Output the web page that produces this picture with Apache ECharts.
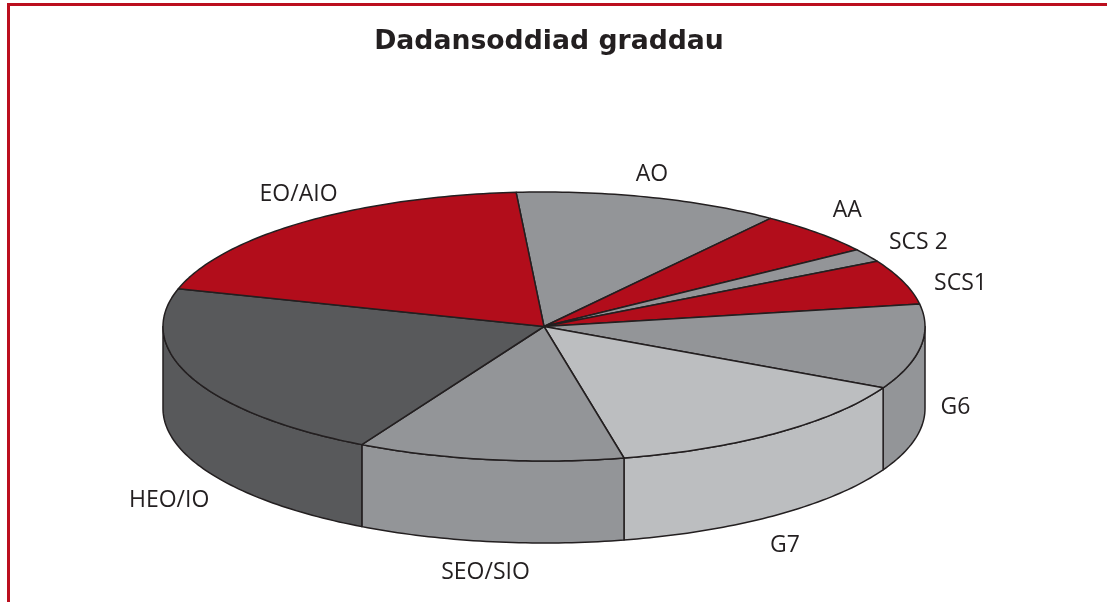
<!DOCTYPE html>
<html>
<head>
<meta charset="utf-8">
<style>html,body{margin:0;padding:0;background:#fff}#c{width:1107px;height:602px}</style>
<script src="https://cdn.jsdelivr.net/npm/echarts@6/dist/echarts.min.js"></script>
</head>
<body>
<div id="c"></div>
<script>
// Data (share of the pie, clockwise from AO)
const categories = ['AO', 'AA', 'SCS 2', 'SCS1', 'G6', 'G7', 'SEO/SIO', 'HEO/IO', 'EO/AIO'];
const shares = [11.3, 5.2, 1.6, 5.4, 10.2, 14.1, 11.3, 21.6, 19.3];
const sliceColors = ['#939598', '#b20d1b', '#939598', '#b20d1b', '#939598', '#bcbec0', '#939598', '#58595b', '#b20d1b'];
// Layout
const labelOffsets = [[2, -23], [30, -22], [51, -13], [57, 1], [35, -22], [9, 30], [-4, 31], [-23, 40], [-6, -27]];
const cx = 544, cy = 326.5, rx = 381, ry = 134.5, depth = 82, startAngle = 94.2;
const ink = '#231f20';
const labelFont = '23px "Open Sans", "Noto Sans", sans-serif';

const total = shares.reduce((a, b) => a + b, 0);
const toAngle = v => echarts.number.linearMap(v, [0, total], [startAngle, startAngle - 360]);
const onRim = (deg, dy) => {
  const r = deg * Math.PI / 180;
  return [cx + rx * Math.cos(r), cy - ry * Math.sin(r) + dy];
};
const arc = (from, to, dy) => {
  const n = Math.max(2, Math.ceil(Math.abs(from - to)));
  const pts = [];
  for (let i = 0; i <= n; i++) pts.push(onRim(from + (to - from) * i / n, dy));
  return pts;
};

function renderItem(params, api) {
  const i = params.dataIndex;
  const before = shares.slice(0, i).reduce((a, b) => a + b, 0);
  const a0 = toAngle(before), a1 = toAngle(before + api.value(0));
  const style = { fill: sliceColors[i], stroke: ink, lineWidth: 1.5, lineJoin: 'round' };
  const children = [];
  const w0 = Math.min(a0, 0), w1 = Math.max(a1, -180);
  if (w0 > w1) {
    const top = arc(w0, w1, 0), bottom = arc(w1, w0, depth);
    children.push({ type: 'polygon', shape: { points: top.concat(bottom) }, style });
  }
  children.push({ type: 'polygon', shape: { points: [[cx, cy]].concat(arc(a0, a1, 0)) }, style });
  const mid = (a0 + a1) / 2;
  const m = onRim(mid, mid < 0 && mid > -180 ? depth : 0);
  children.push({
    type: 'text',
    z2: 10,
    style: {
      x: m[0] + labelOffsets[i][0], y: m[1] + labelOffsets[i][1],
      text: categories[i], font: labelFont, fill: ink, align: 'center', verticalAlign: 'middle'
    }
  });
  return { type: 'group', children };
}

const chart = echarts.init(document.getElementById('c'), null, { renderer: 'canvas' });
chart.setOption({
  animation: false,
  backgroundColor: '#fff',
  title: {
    text: 'Dadansoddiad graddau',
    left: 549, top: 29, padding: 0, textAlign: 'center',
    textStyle: { fontFamily: '"DejaVu Sans"', fontWeight: 'bold', fontSize: 26.7, color: ink }
  },
  graphic: [
    { type: 'rect', shape: { x: 7, y: 3, width: 1100, height: 3 }, style: { fill: '#bb0f1e' } },
    { type: 'rect', shape: { x: 7, y: 3, width: 3, height: 599 }, style: { fill: '#bb0f1e' } }
  ],
  series: [{
    type: 'custom',
    coordinateSystem: 'none',
    renderItem,
    data: shares.map((v, i) => ({ name: categories[i], value: [v] }))
  }]
});
</script>
</body>
</html>
